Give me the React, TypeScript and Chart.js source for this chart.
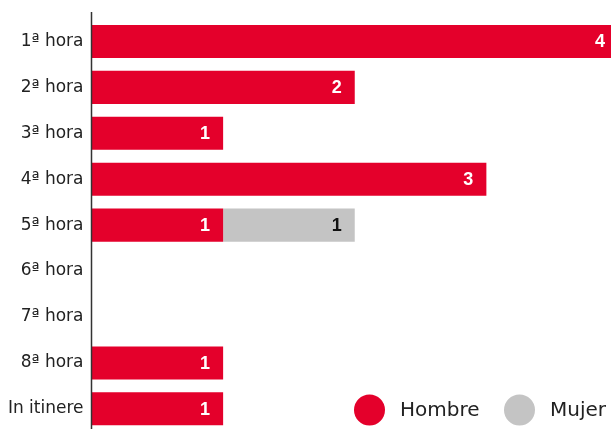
import React, { useEffect, useRef } from "react";
import { Chart, registerables } from "chart.js";

Chart.register(...registerables);

const categories = ["1ª hora", "2ª hora", "3ª hora", "4ª hora", "5ª hora", "6ª hora", "7ª hora", "8ª hora", "In itinere"];
const hombre = [4, 2, 1, 3, 1, 0, 0, 1, 1];
const mujer = [0, 0, 0, 0, 1, 0, 0, 0, 0];
const seriesLabels = ["Hombre", "Mujer"];
const seriesColors = ["#E4002B", "#C4C4C4"];
const labelColors = ["#FFFFFF", "#111111"];

const FONT = "'DejaVu Sans', sans-serif";
const VFONT = "'Liberation Sans', Arial, sans-serif";

const overlayPlugin = {
  id: "overlay",
  afterDatasetsDraw(chart: any) {
    const ctx = chart.ctx;
    const area = chart.chartArea;
    ctx.save();
    // axis line
    ctx.strokeStyle = "#333333";
    ctx.lineWidth = 1.5;
    ctx.beginPath();
    ctx.moveTo(area.left, 12);
    ctx.lineTo(area.left, area.bottom);
    ctx.stroke();
    // value labels
    ctx.font = `bold 18px ${VFONT}`;
    ctx.textAlign = "right";
    ctx.textBaseline = "middle";
    chart.data.datasets.forEach((ds: any, di: number) => {
      const meta = chart.getDatasetMeta(di);
      meta.data.forEach((bar: any, i: number) => {
        const v = ds.data[i];
        if (!v) return;
        ctx.fillStyle = labelColors[di];
        ctx.fillText(String(v), bar.x - 13, bar.y + 1);
      });
    });
    // legend
    ctx.font = `20px ${FONT}`;
    ctx.textAlign = "left";
    const items = [
      { cx: 369.5, tx: 400 },
      { cx: 519.5, tx: 550 },
    ];
    items.forEach((it, k) => {
      ctx.fillStyle = seriesColors[k];
      ctx.beginPath();
      ctx.arc(it.cx, 410, 15.5, 0, Math.PI * 2);
      ctx.fill();
      ctx.fillStyle = "#222222";
      ctx.fillText(seriesLabels[k], it.tx, 411);
    });
    ctx.restore();
  },
};

export default function App() {
  const ref = useRef<HTMLCanvasElement>(null);
  useEffect(() => {
    const chart = new Chart(ref.current!, {
      type: "bar",
      data: {
        labels: categories,
        datasets: [
          { label: seriesLabels[0], data: hombre, backgroundColor: seriesColors[0], categoryPercentage: 0.72, barPercentage: 1 },
          { label: seriesLabels[1], data: mujer, backgroundColor: seriesColors[1], categoryPercentage: 0.72, barPercentage: 1 },
        ],
      },
      options: {
        indexAxis: "y",
        animation: false,
        responsive: false,
        maintainAspectRatio: false,
        layout: { padding: { top: 18.5, bottom: 8, right: 0, left: 0 } },
        plugins: { legend: { display: false }, tooltip: { enabled: false } },
        scales: {
          x: { stacked: true, display: false, min: 0, max: 4 },
          y: {
            stacked: true,
            grid: { display: false, drawTicks: false },
            border: { display: false },
            ticks: { color: "#222222", font: { family: FONT, size: 17 }, padding: 8 },
            afterFit: (s: any) => { s.width = 91.5; },
          },
        },
      },
      plugins: [overlayPlugin],
    });
    return () => chart.destroy();
  }, []);
  return (
    <div style={{ position: "absolute", left: 0, top: 0, width: 611, height: 429, overflow: "hidden", background: "#fff" }}>
      <canvas ref={ref} width={618} height={450} style={{ width: 618, height: 450, display: "block" }} />
    </div>
  );
}
